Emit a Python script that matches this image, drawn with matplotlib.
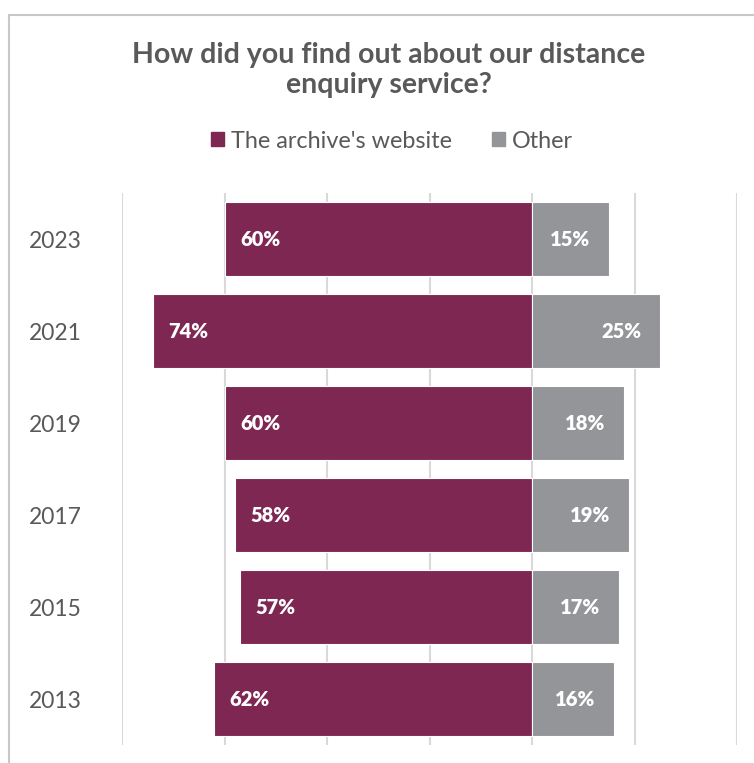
import matplotlib.pyplot as plt
from matplotlib.patches import Rectangle

plt.rcParams['font.family'] = ['Lato', 'DejaVu Sans']

# survey results by year (top to bottom as drawn)
years = ['2023', '2021', '2019', '2017', '2015', '2013']
website = [60, 74, 60, 58, 57, 62]
other = [15, 25, 18, 19, 17, 16]

maroon = '#7E2752'
grey = '#939598'
text_col = '#595959'

fig = plt.figure(figsize=(7.54, 7.63), dpi=100)
ax = fig.add_axes([122 / 754, 1 - 745 / 763, 615 / 754, 552 / 763])

pos = list(range(len(years)))[::-1]
ax.barh(pos, [-v for v in website], height=0.8, color=maroon, edgecolor='white', linewidth=0.8, zorder=2)
ax.barh(pos, other, height=0.8, color=grey, edgecolor='white', linewidth=0.8, zorder=2)

for y, w, o in zip(pos, website, other):
    ax.text(-w + 3.0, y, f'{w}%', ha='left', va='center', color='white',
            fontsize=14.5, fontweight='heavy', zorder=3)
    ax.text(o - 3.7, y, f'{o}%', ha='right', va='center', color='white',
            fontsize=14.5, fontweight='heavy', zorder=3)

ax.set_xlim(-80, 40)
ax.set_ylim(-0.5, len(years) - 0.5)
ax.set_xticks(range(-80, 41, 20))
ax.set_xticklabels([])
ax.tick_params(axis='x', length=0)
ax.grid(axis='x', color='#D9D9D9', linewidth=1.5, zorder=0)
ax.set_yticks(pos)
ax.set_yticklabels(years, fontsize=16.5, color=text_col)
ax.tick_params(axis='y', length=0, pad=29)
for s in ax.spines.values():
    s.set_visible(False)

fig.text(389 / 754, 1 - 70 / 763, 'How did you find out about our distance\nenquiry service?',
         ha='center', va='center', fontsize=20.5, fontweight='bold', color=text_col, linespacing=1.2)

handles = [Rectangle((0, 0), 1, 1, color=maroon), Rectangle((0, 0), 1, 1, color=grey)]
fig.legend(handles, ["The archive's website", 'Other'], loc='center',
           bbox_to_anchor=(392 / 754, 1 - 141 / 763), ncol=2, frameon=False,
           fontsize=16.8, handlelength=0.55, handleheight=0.55, handletextpad=0.3,
           columnspacing=1.7, labelcolor=text_col)

# light frame around the chart area
fig.patches.append(Rectangle((9 / 754, -0.1), 1.2, 1.1 - 15 / 763, transform=fig.transFigure,
                             fill=False, edgecolor='#C8C8C8', linewidth=1.5))

fig.savefig('out.png', dpi=100)
